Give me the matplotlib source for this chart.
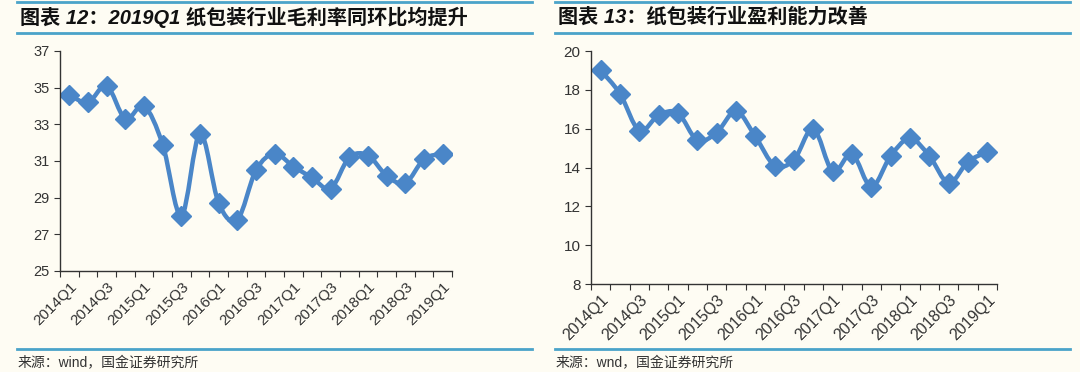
import matplotlib
matplotlib.use("Agg")
import matplotlib.pyplot as plt
from matplotlib.lines import Line2D
from matplotlib.path import Path
from matplotlib.patches import PathPatch

plt.rcParams['font.family'] = ['Liberation Sans', 'Noto Sans CJK SC', 'DejaVu Sans']

# quarters 2014Q1 .. 2019Q1
quarters = [f"{y}Q{q}" for y in range(2014, 2020) for q in range(1, 5)][:21]

# 毛利率 (%)
gross_margin = [34.6, 34.2, 35.1, 33.3, 34.0, 31.9, 28.0, 32.5, 28.7, 27.8, 30.5,
                31.4, 30.7, 30.1, 29.5, 31.2, 31.3, 30.2, 29.8, 31.1, 31.4]
# 盈利能力 (%)
profitability = [19.0, 17.8, 15.9, 16.7, 16.8, 15.4, 15.8, 16.9, 15.6, 14.1, 14.4,
                 16.0, 13.8, 14.7, 13.0, 14.6, 15.5, 14.6, 13.2, 14.3, 14.8]

titles = ["图表 12：2019Q1 纸包装行业毛利率同环比均提升", "图表 13：纸包装行业盈利能力改善"]
sources = ["来源：wind，国金证券研究所", "来源：wnd，国金证券研究所"]

BG = "#fefcf3"
RULE = "#4aa3c9"
BLUE = "#4a86c8"

W, H = 1080, 372
fig = plt.figure(figsize=(W / 100, H / 100), dpi=100, facecolor=BG)


def px_axes(x0, x1, ytop, ybot):
    return fig.add_axes([x0 / W, 1 - ybot / H, (x1 - x0) / W, (ybot - ytop) / H])


def smooth_path(x, y):
    # excel-like smoothed line: catmull-rom converted to cubic beziers
    pts = list(zip(x, y))
    verts = [pts[0]]
    codes = [Path.MOVETO]
    n = len(pts)
    for i in range(n - 1):
        p0 = pts[max(i - 1, 0)]
        p1 = pts[i]
        p2 = pts[i + 1]
        p3 = pts[min(i + 2, n - 1)]
        c1 = (p1[0] + (p2[0] - p0[0]) / 6, p1[1] + (p2[1] - p0[1]) / 6)
        c2 = (p2[0] - (p3[0] - p1[0]) / 6, p2[1] - (p3[1] - p1[1]) / 6)
        verts += [c1, c2, p2]
        codes += [Path.CURVE4] * 3
    return Path(verts, codes)


def draw_panel(ax, values, ylim, yticks, fs):
    ax.set_facecolor(BG)
    x = list(range(len(values)))
    ax.add_patch(PathPatch(smooth_path(x, values), fill=False, edgecolor=BLUE,
                           lw=3.2, capstyle="round", joinstyle="round"))
    ax.plot(x, values, ls="none", marker="D", ms=10,
            markerfacecolor=BLUE, markeredgecolor=BLUE)
    ax.set_xlim(-0.5, len(values) - 0.5)
    ax.set_ylim(*ylim)
    ax.set_yticks(yticks)
    ax.set_xticks([i - 0.5 for i in range(len(values) + 1)])
    ax.set_xticklabels([])
    ax.set_xticks(x[::2], minor=True)
    ax.set_xticklabels(quarters[::2], minor=True, rotation=45, ha="right",
                       rotation_mode="anchor", fontsize=fs + 0.5, color="#333333")
    ax.tick_params(axis="x", which="minor", length=0, pad=6)
    ax.tick_params(axis="x", which="major", length=4, color="#333333")
    ax.tick_params(axis="y", length=4, labelsize=fs, labelcolor="#333333", color="#333333")
    for s in ["top", "right"]:
        ax.spines[s].set_visible(False)
    for s in ["left", "bottom"]:
        ax.spines[s].set_color("#333333")
        ax.spines[s].set_linewidth(1)


ax1 = px_axes(60, 452, 51, 271)
draw_panel(ax1, gross_margin, (25, 37), range(25, 38, 2), 10.5)
ax2 = px_axes(591, 997, 51, 284)
draw_panel(ax2, profitability, (8, 20), range(8, 21, 2), 11)

# header / footer rules and texts
for (x0, x1), title, src in zip([(17, 532), (555, 1070)], titles, sources):
    for y in (2, 33, 349):
        fig.add_artist(Line2D([x0 / W, x1 / W], [1 - y / H, 1 - y / H],
                              color=RULE, lw=2, transform=fig.transFigure))
    fig.text((x0 + 3) / W, 1 - 17 / H, title, fontsize=14.5, fontweight="bold",
             fontstyle="italic", va="center", ha="left", color="#111111",
             family=['Liberation Sans', 'Noto Sans CJK SC'])
    fig.text((x0 + 1) / W, 1 - 363 / H, src, fontsize=10, va="center", ha="left",
             color="#333333", family=['Liberation Sans', 'Noto Sans CJK SC'])

fig.savefig("out.png", dpi=100, facecolor=BG)
